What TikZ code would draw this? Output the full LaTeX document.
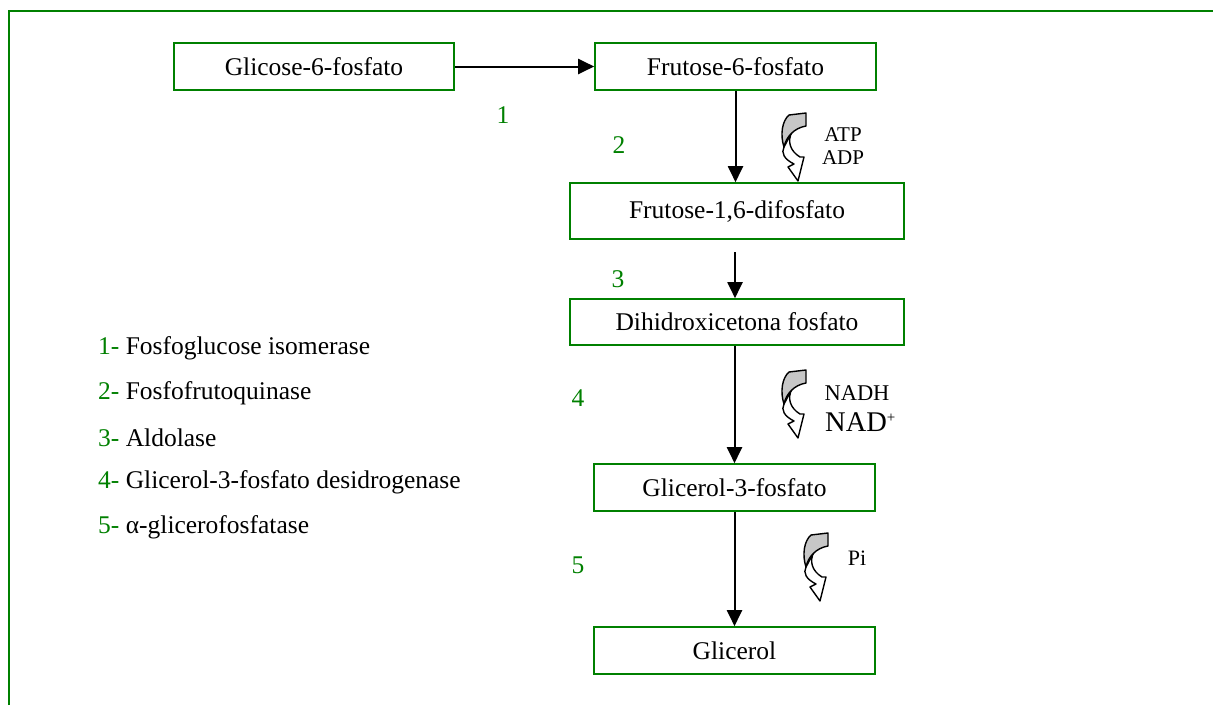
\documentclass[tikz,border=0pt]{standalone}
\usepackage{fontspec}
\setmainfont{Liberation Serif}
\usetikzlibrary{arrows.meta}
\definecolor{dgreen}{RGB}{0,128,0}
\begin{document}
\begin{tikzpicture}[x=1pt,y=-1pt,
  box/.style={draw=dgreen, line width=1.6pt, minimum height=47pt, inner sep=0pt, font=\fontsize{25.5}{28}\selectfont},
  flow/.style={line width=2pt, -{Triangle[length=16pt,width=15pt]}},
  num/.style={text=dgreen, font=\fontsize{25.5}{28}\selectfont, inner sep=0pt},
  lbl/.style={inner sep=0pt, anchor=west, font=\fontsize{25.5}{28}\selectfont},
  chem/.style={inner sep=0pt, font=\fontsize{21}{24}\selectfont},
  curv/.pic={
    \draw[line width=1.4pt, fill=white, line join=round] (-14,19) .. controls (-19,28) and (-16,38) .. (-6,44) -- (-2,44) -- (-8,68) -- (-18,54) -- (-12,51) .. controls (-22,46) and (-25,40) .. (-22,34) -- cycle;
    \draw[line width=1.4pt, fill=black!22, line join=round] (-17,2) -- (0,0) -- (0,13) .. controls (-12,15) and (-20,24) .. (-22,34) .. controls (-26,22) and (-24,8) .. (-17,2) -- cycle;
  }]
\useasboundingbox (0,0) rectangle (1213,705);
% frame
\coordinate (fa) at (9,705);
\coordinate (fb) at (9,11);
\coordinate (fc) at (1213,11);
\draw[dgreen, line width=2pt] (fa) -- (fb) -- (fc);
% boxes
\node[box, minimum width=280pt] (g6p) at (314,66.5) {Glicose-6-fosfato};
\node[box, minimum width=281pt] (f6p) at (735.5,66.5) {Frutose-6-fosfato};
\node[box, minimum width=334pt, minimum height=56pt] (f16) at (737,211) {Frutose-1,6-difosfato};
\node[box, minimum width=334pt, minimum height=46pt] (dhap) at (737,322) {Dihidroxicetona fosfato};
\node[box, minimum width=281pt] (g3p) at (734.5,487.5) {Glicerol-3-fosfato};
\node[box, minimum width=281pt] (gli) at (734.5,650.5) {Glicerol};
% arrows
\draw[flow] (g6p.east) -- (f6p.west);
\draw[flow] (f6p.south) -- (f6p.south |- f16.north);
\coordinate (s2) at (735,252);
\draw[flow] (s2) -- (s2 |- dhap.north);
\draw[flow] (g3p.north |- dhap.south) -- (g3p.north);
\draw[flow] (g3p.south) -- (gli.north);
% curved arrows
\pic (c1) at (806,113) {curv};
\pic (c2) at (806,370) {curv};
\pic (c3) at (828,533) {curv};
% cofactor labels
\node[chem] (atp) at (843,135) {ATP};
\node[chem] (adp) at (843,158) {ADP};
\node[chem, font=\fontsize{22.5}{26}\selectfont] (nadh) at (857,393) {NADH};
\node[chem, anchor=west, font=\fontsize{28.5}{30}\selectfont] (nad) at (825,422) {NAD\raisebox{9pt}{\fontsize{15}{15}\selectfont +}};
\node[chem, font=\fontsize{22}{25}\selectfont] (pi) at (857,558) {Pi};
% step numbers
\node[num] (n1) at (503,115) {1};
\node[num] (n2) at (619,145) {2};
\node[num] (n3) at (618,279) {3};
\node[num] (n4) at (578,398) {4};
\node[num] (n5) at (578,565) {5};
% legend
\node[lbl] (l1) at (98,348) {\textcolor{dgreen}{1-} Fosfoglucose isomerase};
\node[lbl] (l2) at (98,393) {\textcolor{dgreen}{2-} Fosfofrutoquinase};
\node[lbl] (l3) at (98,438) {\textcolor{dgreen}{3-} Aldolase};
\node[lbl] (l4) at (98,482) {\textcolor{dgreen}{4-} Glicerol-3-fosfato desidrogenase};
\node[lbl] (l5) at (98,527) {\textcolor{dgreen}{5-} α-glicerofosfatase};
\end{tikzpicture}
\end{document}
